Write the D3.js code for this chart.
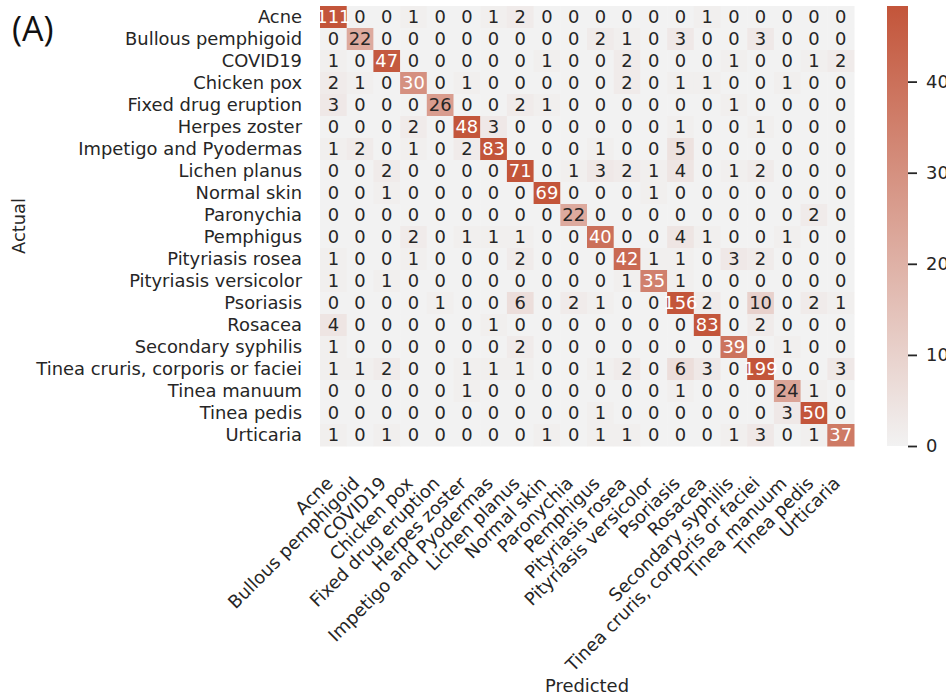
<!DOCTYPE html>
<html>
<head>
<meta charset="utf-8">
<script src="https://cdn.jsdelivr.net/npm/d3@7"></script>
<style>
  body { margin: 0; background: #ffffff; }
  svg { display: block; font-family: "DejaVu Sans", sans-serif; }
</style>
</head>
<body>
<svg width="946" height="697"></svg>
<script>
// class names, same order on both axes
var classes = ["Acne", "Bullous pemphigoid", "COVID19", "Chicken pox", "Fixed drug eruption",
    "Herpes zoster", "Impetigo and Pyodermas", "Lichen planus", "Normal skin", "Paronychia",
    "Pemphigus", "Pityriasis rosea", "Pityriasis versicolor", "Psoriasis", "Rosacea",
    "Secondary syphilis", "Tinea cruris, corporis or faciei", "Tinea manuum", "Tinea pedis", "Urticaria"];

// one row per actual class, one column per predicted class
var counts = [
    [111, 0, 0, 1, 0, 0, 1, 2, 0, 0, 0, 0, 0, 0, 1, 0, 0, 0, 0, 0],
    [0, 22, 0, 0, 0, 0, 0, 0, 0, 0, 2, 1, 0, 3, 0, 0, 3, 0, 0, 0],
    [1, 0, 47, 0, 0, 0, 0, 0, 1, 0, 0, 2, 0, 0, 0, 1, 0, 0, 1, 2],
    [2, 1, 0, 30, 0, 1, 0, 0, 0, 0, 0, 2, 0, 1, 1, 0, 0, 1, 0, 0],
    [3, 0, 0, 0, 26, 0, 0, 2, 1, 0, 0, 0, 0, 0, 0, 1, 0, 0, 0, 0],
    [0, 0, 0, 2, 0, 48, 3, 0, 0, 0, 0, 0, 0, 1, 0, 0, 1, 0, 0, 0],
    [1, 2, 0, 1, 0, 2, 83, 0, 0, 0, 1, 0, 0, 5, 0, 0, 0, 0, 0, 0],
    [0, 0, 2, 0, 0, 0, 0, 71, 0, 1, 3, 2, 1, 4, 0, 1, 2, 0, 0, 0],
    [0, 0, 1, 0, 0, 0, 0, 0, 69, 0, 0, 0, 1, 0, 0, 0, 0, 0, 0, 0],
    [0, 0, 0, 0, 0, 0, 0, 0, 0, 22, 0, 0, 0, 0, 0, 0, 0, 0, 2, 0],
    [0, 0, 0, 2, 0, 1, 1, 1, 0, 0, 40, 0, 0, 4, 1, 0, 0, 1, 0, 0],
    [1, 0, 0, 1, 0, 0, 0, 2, 0, 0, 0, 42, 1, 1, 0, 3, 2, 0, 0, 0],
    [1, 0, 1, 0, 0, 0, 0, 0, 0, 0, 0, 1, 35, 1, 0, 0, 0, 0, 0, 0],
    [0, 0, 0, 0, 1, 0, 0, 6, 0, 2, 1, 0, 0, 156, 2, 0, 10, 0, 2, 1],
    [4, 0, 0, 0, 0, 0, 1, 0, 0, 0, 0, 0, 0, 0, 83, 0, 2, 0, 0, 0],
    [1, 0, 0, 0, 0, 0, 0, 2, 0, 0, 0, 0, 0, 0, 0, 39, 0, 1, 0, 0],
    [1, 1, 2, 0, 0, 1, 1, 1, 0, 0, 1, 2, 0, 6, 3, 0, 199, 0, 0, 3],
    [0, 0, 0, 0, 0, 1, 0, 0, 0, 0, 0, 0, 0, 1, 0, 0, 0, 24, 1, 0],
    [0, 0, 0, 0, 0, 0, 0, 0, 0, 0, 1, 0, 0, 0, 0, 0, 0, 3, 50, 0],
    [1, 0, 1, 0, 0, 0, 0, 0, 1, 0, 1, 1, 0, 0, 0, 1, 3, 0, 1, 37]
];

// colour bar range and ticks
var colorMax = 48.3;
var cbarTicks = [0, 10, 20, 30, 40];

var svg = d3.select("svg");
var fontSize = 17.9;
var textColor = "#262626";

var heat = {left: 320, right: 854, top: 6, bottom: 446};
var cbar = {left: 887, width: 21};

var xScale = d3.scaleBand().domain(classes).range([heat.left, heat.right]);
var yScale = d3.scaleBand().domain(classes).range([heat.top, heat.bottom]);

var colorScale = d3.scaleLinear()
    .domain([0, colorMax])
    .range(["#f2f2f2", "#c3553a"])
    .interpolate(d3.interpolateRgb)
    .clamp(true);

// flatten matrix into cells
var cells = [];
counts.forEach(function(row, i) {
    row.forEach(function(v, j) {
        cells.push({actual: classes[i], predicted: classes[j], value: v});
    });
});

// relative luminance, decides dark or white number
var luminance = function(c) {
    var rgb = d3.rgb(c);
    var lin = [rgb.r, rgb.g, rgb.b].map(function(x) {
        x = x / 255;
        return x <= 0.03928 ? x / 12.92 : Math.pow((x + 0.055) / 1.055, 2.4);
    });
    return 0.2126 * lin[0] + 0.7152 * lin[1] + 0.0722 * lin[2];
};

var grid = svg.append("g");

grid.selectAll("rect")
    .data(cells)
    .enter()
    .append("rect")
    .attr("x", function(d) { return xScale(d.predicted); })
    .attr("y", function(d) { return yScale(d.actual); })
    .attr("width", xScale.bandwidth() + 0.5)
    .attr("height", yScale.bandwidth() + 0.5)
    .attr("fill", function(d) { return colorScale(d.value); });

grid.selectAll("text")
    .data(cells)
    .enter()
    .append("text")
    .attr("x", function(d) { return xScale(d.predicted) + xScale.bandwidth() / 2; })
    .attr("y", function(d) { return yScale(d.actual) + yScale.bandwidth() / 2; })
    .attr("dy", "0.36em")
    .attr("text-anchor", "middle")
    .style("font-size", fontSize + "px")
    .attr("fill", function(d) {
        return luminance(colorScale(d.value)) > 0.40 ? textColor : "#ffffff";
    })
    .text(function(d) { return d.value; });

// y tick labels (actual)
var yAxis = svg.append("g")
    .attr("transform", "translate(" + heat.left + ",0)")
    .call(d3.axisLeft(yScale).tickSize(0).tickPadding(18));
yAxis.select(".domain").remove();
yAxis.selectAll("text")
    .style("font-size", fontSize + "px")
    .style("font-family", "DejaVu Sans")
    .attr("fill", textColor);

// x tick labels (predicted), rotated 45 degrees
svg.append("g")
    .selectAll("text")
    .data(classes)
    .enter()
    .append("text")
    .attr("transform", function(d) {
        var cx = xScale(d) + xScale.bandwidth() / 2;
        return "translate(" + (cx - 4) + "," + (heat.bottom + 34) + ") rotate(-45)";
    })
    .attr("dy", "0.36em")
    .attr("text-anchor", "end")
    .style("font-size", fontSize + "px")
    .attr("fill", textColor)
    .text(function(d) { return d; });

// axis titles
svg.append("text")
    .attr("transform", "translate(25," + ((heat.top + heat.bottom) / 2) + ") rotate(-90)")
    .attr("text-anchor", "middle")
    .style("font-size", fontSize + "px")
    .attr("fill", textColor)
    .text("Actual");

svg.append("text")
    .attr("x", (heat.left + heat.right) / 2)
    .attr("y", 692)
    .attr("text-anchor", "middle")
    .style("font-size", fontSize + "px")
    .attr("fill", textColor)
    .text("Predicted");

// panel letter
svg.append("text")
    .attr("x", 12)
    .attr("y", 41)
    .style("font-family", "Open Sans")
    .style("font-size", "34px")
    .attr("fill", "#111111")
    .text("(A)");

// colour bar
var cScale = d3.scaleLinear().domain([0, colorMax]).range([heat.bottom, heat.top]);

var grad = svg.append("defs")
    .append("linearGradient")
    .attr("id", "cbarGrad")
    .attr("x1", 0).attr("y1", 1)
    .attr("x2", 0).attr("y2", 0);
grad.append("stop").attr("offset", "0%").attr("stop-color", colorScale(0));
grad.append("stop").attr("offset", "100%").attr("stop-color", colorScale(colorMax));

svg.append("rect")
    .attr("x", cbar.left)
    .attr("y", heat.top)
    .attr("width", cbar.width)
    .attr("height", heat.bottom - heat.top)
    .attr("fill", "url(#cbarGrad)");

var cAxis = svg.append("g")
    .attr("transform", "translate(" + (cbar.left + cbar.width) + ",0)")
    .call(d3.axisRight(cScale).tickValues(cbarTicks).tickSize(9).tickPadding(9));
cAxis.select(".domain").remove();
cAxis.selectAll("line")
    .attr("stroke", textColor)
    .attr("stroke-width", 1.8);
cAxis.selectAll("text")
    .style("font-size", fontSize + "px")
    .style("font-family", "DejaVu Sans")
    .attr("fill", textColor);
</script>
</body>
</html>
